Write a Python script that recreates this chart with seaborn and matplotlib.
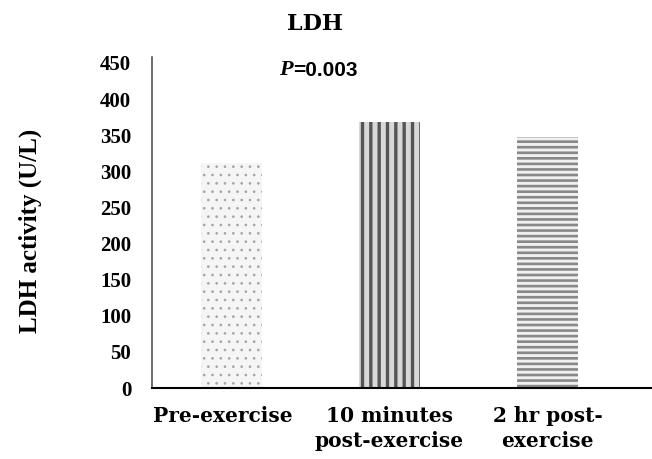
import matplotlib
matplotlib.use("Agg")
import pandas as pd
import seaborn as sns
import matplotlib.pyplot as plt
import matplotlib.transforms as mtransforms

categories = ["Pre-exercise", "10 minutes\npost-exercise", "2 hr post-\nexercise"]
ldh_values = [311, 368, 347]
y_ticks = [0, 50, 100, 150, 200, 250, 300, 350, 400, 450]

sns.set_style("white")
plt.rcParams["font.family"] = ["Liberation Serif", "DejaVu Serif"]
plt.rcParams["font.weight"] = "bold"
plt.rcParams["text.color"] = "black"
plt.rcParams["xtick.color"] = "black"
plt.rcParams["ytick.color"] = "black"
plt.rcParams["axes.labelcolor"] = "black"

df = pd.DataFrame({"phase": categories, "ldh": ldh_values})

fig = plt.figure(figsize=(6.52, 4.59), dpi=100)
ax = fig.add_axes([152 / 652, 71 / 459, 1 - 152 / 652, (388 - 57) / 459])

sns.barplot(data=df, x="phase", y="ldh", ax=ax, width=0.386,
            color="white", saturation=1)

styles = [
    dict(face="#f5f5f5", edge="#a5a5a5", hatch="..", lw=0.7),
    dict(face="#d8d8d8", edge="#555555", hatch="||", lw=2.4),
    dict(face="#f0f0f0", edge="#888888", hatch="---", lw=1.9),
]
for bar, st in zip(ax.patches, styles):
    bar.set_facecolor(st["face"])
    bar.set_edgecolor(st["edge"])
    bar.set_hatch(st["hatch"])
    bar.set_linewidth(0)
    if hasattr(bar, "set_hatch_linewidth"):
        bar.set_hatch_linewidth(st["lw"])

ax.set_xlim(-0.5, 2.66)
ax.set_ylim(0, 458.3)
ax.set_yticks(y_ticks)
ax.tick_params(axis="both", length=0, colors="black")
ax.tick_params(axis="y", pad=15, labelsize=15)
ax.tick_params(axis="x", pad=13)
for lab in ax.get_yticklabels():
    lab.set_fontweight("bold")
for lab in ax.get_xticklabels():
    lab.set_fontweight("bold")
    lab.set_family("DejaVu Serif")
    lab.set_fontsize(14.5)
    lab.set_linespacing(1.3)
# first label sits a little left of its bar in the original
first = ax.get_xticklabels()[0]
first.set_transform(first.get_transform() +
                    mtransforms.ScaledTranslation(-8 / 100, 0, fig.dpi_scale_trans))

ax.set_xlabel("")
ax.set_ylabel("LDH activity (U/L)", fontsize=18, fontweight="bold",
              va="center")
ax.yaxis.set_label_coords(-0.244, 1 - (231 - 57) / 331)

sns.despine(ax=ax)
ax.spines["left"].set_color("#444444")
ax.spines["left"].set_linewidth(1.1)
ax.spines["bottom"].set_color("black")
ax.spines["bottom"].set_linewidth(1.5)

fig.text(315 / 652, 1 - 24 / 459, "LDH", ha="center", va="center",
         fontsize=16, fontweight="bold", family="DejaVu Serif")
fig.text(293 / 652, 1 - 70 / 459, "P", ha="right", va="center",
         fontsize=16, fontweight="bold", fontstyle="italic")
fig.text(293 / 652, 1 - 70 / 459, "=0.003", ha="left", va="center",
         fontsize=15, fontweight="bold", family="Liberation Sans")

fig.savefig("out.png", dpi=100)
